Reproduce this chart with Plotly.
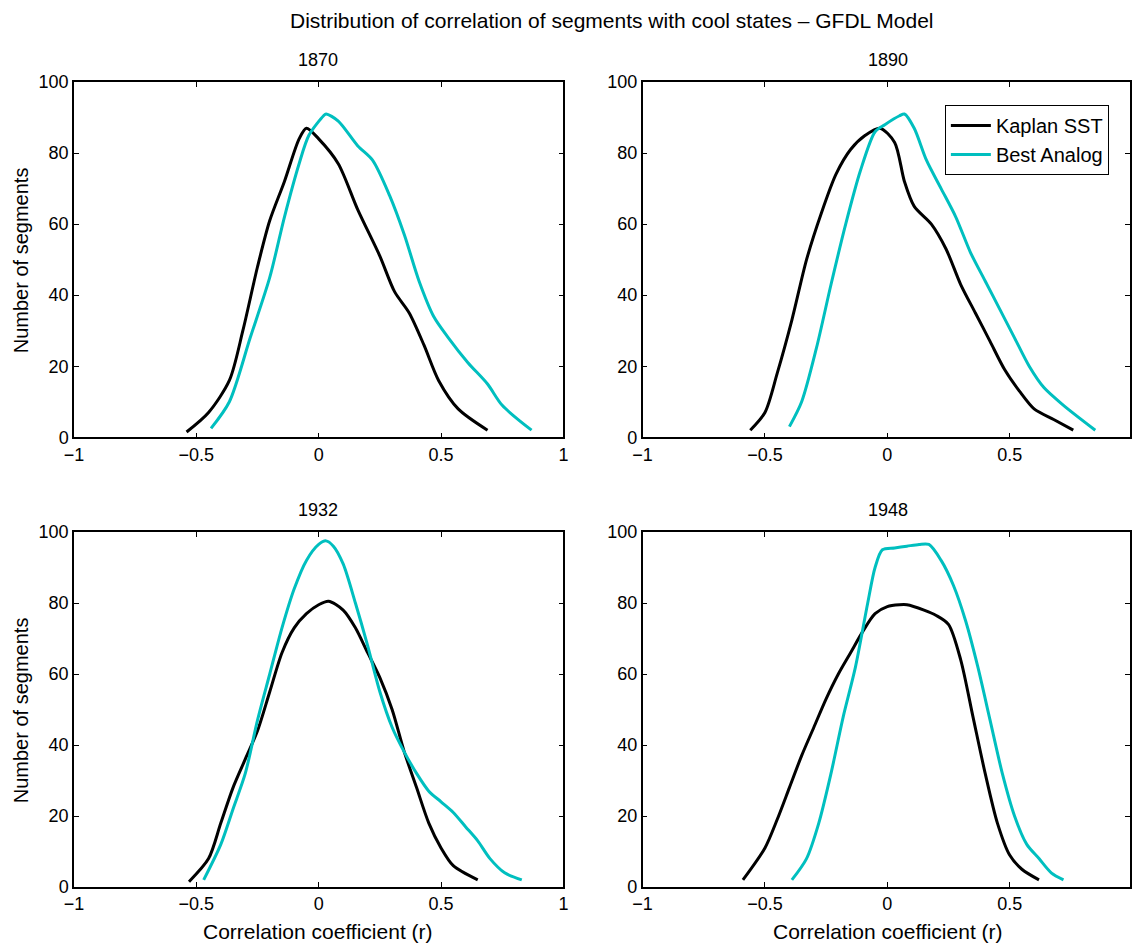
import plotly.graph_objects as go

# ---------------- data ----------------
r_k1870 = [-0.54, -0.45, -0.365, -0.31, -0.25, -0.2, -0.14, -0.08, -0.05, 0.0, 0.08, 0.16, 0.25, 0.31, 0.37, 0.43, 0.49, 0.57, 0.69]
v_k1870 = [1.5, 7, 16, 30, 48, 61, 72, 84, 87, 84, 77, 64, 51, 41, 35, 26, 16, 8, 2]
r_b1870 = [-0.44, -0.365, -0.28, -0.2, -0.14, -0.08, -0.04, 0.02, 0.03, 0.08, 0.16, 0.22, 0.29, 0.35, 0.41, 0.47, 0.53, 0.61, 0.69, 0.75, 0.87]
v_b1870 = [2.5, 10, 28, 45, 62, 77, 85, 90.5, 91, 89, 82, 78, 68, 57, 44, 34, 28, 21, 15, 9, 2]

r_k1890 = [-0.56, -0.5, -0.45, -0.39, -0.33, -0.27, -0.21, -0.15, -0.09, -0.03, 0.03, 0.07, 0.11, 0.18, 0.24, 0.3, 0.36, 0.42, 0.48, 0.54, 0.6, 0.68, 0.76]
v_k1890 = [2, 7, 18, 33, 50, 63, 74, 81, 85, 87, 83, 72, 65, 60, 53, 43, 35, 27, 19, 13, 8, 5, 2]
r_b1890 = [-0.4, -0.35, -0.29, -0.23, -0.17, -0.11, -0.05, -0.01, 0.05, 0.07, 0.11, 0.16, 0.22, 0.28, 0.34, 0.4, 0.46, 0.52, 0.58, 0.64, 0.72, 0.85]
v_b1890 = [3, 10, 25, 43, 60, 75, 86, 88, 90.5, 91, 87, 78, 70, 62, 52, 44, 36, 28, 20, 14, 9, 2]

r_k1932 = [-0.53, -0.45, -0.4, -0.35, -0.3, -0.25, -0.2, -0.15, -0.1, -0.05, 0.0, 0.04, 0.1, 0.15, 0.2, 0.25, 0.3, 0.35, 0.4, 0.45, 0.5, 0.55, 0.65]
v_k1932 = [1.5, 8, 18, 28, 36, 44, 55, 66, 73, 77, 79.5, 80.5, 78, 73, 66, 59, 50, 38, 28, 18, 11, 6, 2]
r_b1932 = [-0.47, -0.4, -0.35, -0.3, -0.25, -0.2, -0.15, -0.1, -0.05, 0.0, 0.03, 0.06, 0.1, 0.15, 0.2, 0.25, 0.3, 0.35, 0.4, 0.45, 0.5, 0.55, 0.6, 0.65, 0.7, 0.76, 0.83]
v_b1932 = [2, 12, 22, 32, 47, 60, 73, 84, 92, 96.5, 97.5, 96, 91, 80, 68, 55, 45, 38, 32, 27, 24, 21, 17, 13, 8, 4, 2]

r_k1948 = [-0.59, -0.5, -0.45, -0.4, -0.35, -0.3, -0.25, -0.2, -0.15, -0.1, -0.05, 0.0, 0.05, 0.08, 0.15, 0.2, 0.25, 0.3, 0.35, 0.4, 0.45, 0.5, 0.55, 0.62]
v_k1948 = [2, 11, 19, 28, 37, 45, 53, 60, 66, 72, 77, 79, 79.5, 79.5, 78, 76.5, 74, 64, 48, 32, 18, 9, 5, 2]
r_b1948 = [-0.39, -0.33, -0.28, -0.23, -0.18, -0.13, -0.08, -0.05, -0.02, 0.03, 0.08, 0.13, 0.17, 0.22, 0.27, 0.32, 0.37, 0.42, 0.47, 0.52, 0.57, 0.62, 0.67, 0.72]
v_b1948 = [2, 8, 18, 32, 48, 62, 80, 90, 95, 95.5, 96, 96.5, 96.5, 92, 85, 75, 62, 47, 32, 20, 12, 8, 4, 2]

years = ["1870", "1890", "1932", "1948"]
series_names = ["Kaplan SST", "Best Analog"]
x_tickvals = [-1, -0.5, 0, 0.5, 1]
x_ticktext = ["\u22121", "\u22120.5", "0", "0.5", "1"]
y_tickvals = [0, 20, 40, 60, 80, 100]

title_text = "Distribution of correlation of segments with cool states \u2013 GFDL Model"
xlabel = "Correlation coefficient (r)"
ylabel = "Number of segments"

# ---------------- layout geometry ----------------
W, H = 1135, 946
ML, MR, MT, MB = 74, 0, 82, 59
PW = W - ML - MR
PH = H - MT - MB

def px_x(p):
    return (p - ML) / PW

def px_y(p):
    return (H - MB - p) / PH

left_dom = [0, px_x(565.7)]
right_dom = [px_x(645.3), 1]
top_dom = [px_y(437.3), 1]
bot_dom = [0, px_y(532)]
right_max = -1 + (W - 645.3) / ((565.7 - 74) / 2)

BLACK = "#000000"
CYAN = "#00BFBF"
FONT = "Liberation Sans, Arial, Helvetica, sans-serif"

fig = go.Figure()

data = [
    (r_k1870, v_k1870, r_b1870, v_b1870),
    (r_k1890, v_k1890, r_b1890, v_b1890),
    (r_k1932, v_k1932, r_b1932, v_b1932),
    (r_k1948, v_k1948, r_b1948, v_b1948),
]

for i, (rk, vk, rb, vb) in enumerate(data):
    ax = "" if i == 0 else str(i + 1)
    fig.add_trace(go.Scatter(x=rk, y=vk, mode="lines", line=dict(color=BLACK, width=3, shape="spline", smoothing=0.8),
                             name=series_names[0], showlegend=(i == 1), xaxis="x" + ax, yaxis="y" + ax))
    fig.add_trace(go.Scatter(x=rb, y=vb, mode="lines", line=dict(color=CYAN, width=3, shape="spline", smoothing=0.8),
                             name=series_names[1], showlegend=(i == 1), xaxis="x" + ax, yaxis="y" + ax))

axis_common = dict(showline=True, linecolor="black", linewidth=1.5, mirror="ticks", ticks="inside",
                   ticklen=5, tickcolor="black", tickwidth=1, showgrid=False, zeroline=False,
                   tickfont=dict(family=FONT, size=18, color="black"))

doms = [(left_dom, top_dom), (right_dom, top_dom), (left_dom, bot_dom), (right_dom, bot_dom)]
layout_axes = {}
for i, (xd, yd) in enumerate(doms):
    k = "" if i == 0 else str(i + 1)
    xr = [-1, 1] if xd is left_dom else [-1, right_max]
    layout_axes["xaxis" + k] = dict(axis_common, domain=xd, range=xr, tickvals=x_tickvals, ticktext=x_ticktext,
                                    anchor="y" + k)
    layout_axes["yaxis" + k] = dict(axis_common, domain=yd, range=[0, 100], tickvals=y_tickvals,
                                    anchor="x" + k)

fig.update_layout(**layout_axes)

ann = []
ann.append(dict(text=title_text, x=px_x(615), y=px_y(20), xref="paper", yref="paper", showarrow=False,
                font=dict(family=FONT, size=21, color="black"), xanchor="center", yanchor="middle"))
sub_pos = [(px_x(319), px_y(60)), (px_x(891.5), px_y(60)), (px_x(319), px_y(510)), (px_x(891.5), px_y(510))]
for yr, (sx, sy) in zip(years, sub_pos):
    ann.append(dict(text=yr, x=sx, y=sy, xref="paper", yref="paper", showarrow=False,
                    font=dict(family=FONT, size=18, color="black"), xanchor="center", yanchor="middle"))
for cx in (319, 891.5):
    ann.append(dict(text=xlabel, x=px_x(cx), y=px_y(931), xref="paper", yref="paper", showarrow=False,
                    font=dict(family=FONT, size=21, color="black"), xanchor="center", yanchor="middle"))
for cy in (260, 710):
    ann.append(dict(text=ylabel, x=px_x(21), y=px_y(cy), xref="paper", yref="paper", showarrow=False,
                    textangle=-90, font=dict(family=FONT, size=20, color="black"),
                    xanchor="center", yanchor="middle"))

fig.update_layout(
    width=W, height=H,
    margin=dict(l=ML, r=MR, t=MT, b=MB, pad=0),
    paper_bgcolor="white", plot_bgcolor="white",
    annotations=ann,
    showlegend=True,
    legend=dict(x=px_x(949), y=px_y(105), xanchor="left", yanchor="top", bgcolor="white",
                bordercolor="black", borderwidth=1, font=dict(family=FONT, size=20, color="black"),
                tracegroupgap=0, itemwidth=40),
)

fig.write_html("out.html")
